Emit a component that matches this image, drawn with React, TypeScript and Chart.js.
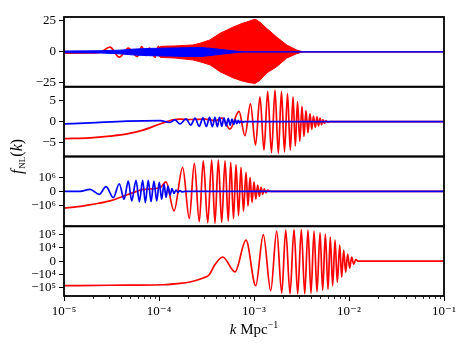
import React, { useEffect, useRef } from 'react';
import { Chart, registerables, LinearScale } from 'chart.js';

Chart.register(...registerables);

// ---------------- data (k as log10 k, values as read) ----------------
// Panel 1
const p1RedLogK = [-5, -4.779, -4.621, -4.516, -4.418, -4.323, -4.228, -4.182, -4.137, -4.102, -4.042, -4.007, -3.972];
const p1RedVal = [-1.0, -0.9, -0.4, 3.8, -4.3, 3.0, -3.8, 4.3, -3.0, 3.0, -4.3, 4.5, -4.5];
const p1RedEnvLogK = [-4.06, -3.98, -3.832, -3.642, -3.568, -3.463, -3.358, -3.221, -3.126, -3.042, -2.989, -2.937, -2.866, -2.761, -2.656, -2.551, -2.484, -1];
const p1RedEnvUpper = [0, 4.5, 4.8, 5.6, 7, 9.7, 15, 20, 23, 25, 26.5, 24, 19, 12, 5.6, 1.5, 0, 0];
const p1RedEnvLower = [0, -4.5, -5, -6.5, -8, -10.5, -16, -21, -23.5, -25, -25.5, -23, -17, -12, -5, -1.5, 0, 0];
const p1BlueEnvLogK = [-5, -4.621, -4.411, -4.253, -4.095, -3.884, -3.674, -3.568, -3.463, -3.358, -3.253, -3.168, -3.095, -1];
const p1BlueEnvUpper = [0.7, 0.9, 1.4, 2.3, 2.8, 3.1, 3.4, 3.6, 2.9, 2.0, 1.1, 0.4, 0, 0];
const p1BlueEnvLower = [-0.7, -0.9, -1.6, -2.6, -3.1, -3.4, -3.8, -3.8, -3.0, -2.0, -1.1, -0.4, 0, 0];

// Panel 2
const p2RedLogK = [-5, -4.726, -4.516, -4.337, -4.168, -3.989, -3.853, -3.779, -3.674, -3.516, -3.411, -3.337, -3.253,
  -3.158, -3.095, -3.037, -2.984, -2.937, -2.895, -2.856, -2.816, -2.779, -2.744, -2.711, -2.679, -2.647, -2.618, -2.589,
  -2.565, -2.542, -2.518, -2.495, -2.474, -2.453, -2.432, -2.411, -2.392, -2.374, -2.355, -2.337, -2.321, -2.305, -2.289,
  -2.274, -2.258, -2.242, -2.226, -2.2, -1];
const p2RedVal = [-4.0, -3.8, -3.4, -2.9, -2.0, -0.55, 0.4, 0.6, 0.5, 0.6, 0.2, 0.8, -1.75,
  2.4, -3.3, 4.2, -5.5, 5.8, -6.7, 7.1, -7.3, 7.4, -7.5, 7.1, -7.1, 6.6, -6.7, 5.8,
  -5.7, 4.7, -4.6, 3.6, -3.5, 2.6, -2.6, 1.9, -1.8, 1.3, -1.3, 1.1, -1.0, 0.8, -0.7,
  0.5, -0.4, 0.25, -0.15, 0, 0];
const p2BlueLogK = [-5, -4.726, -4.337, -3.989, -3.884, -3.832, -3.779, -3.716, -3.666, -3.621, -3.576, -3.537, -3.502,
  -3.468, -3.439, -3.411, -3.386, -3.363, -3.339, -3.316, -3.293, -3.271, -3.251, -3.232, -3.214, -3.197, -3.181, -3.165,
  -3.151, -3.137, -3.121, -3.095, -1];
const p2BlueVal = [-0.55, -0.3, 0.1, 0.24, -0.2, 0.4, -0.55, 0.64, -0.8, 0.8, -1.1, 0.9, -1.15,
  1.0, -1.2, 1.0, -1.2, 1.0, -1.1, 0.9, -1.0, 0.75, -0.85, 0.6, -0.65, 0.45, -0.5, 0.3,
  -0.3, 0.15, -0.1, 0, 0];

// Panel 3
const p3RedLogK = [-5, -4.853, -4.695, -4.516, -4.34, -4.235, -4.168, -3.989, -3.926, -3.842, -3.751, -3.681, -3.628,
  -3.576, -3.534, -3.487, -3.445, -3.411, -3.376, -3.34, -3.305, -3.271, -3.245, -3.216, -3.189, -3.163, -3.137, -3.111,
  -3.084, -3.063, -3.042, -3.021, -3.0, -2.981, -2.961, -2.944, -2.926, -2.908, -2.892, -2.874, -2.856, -2.832, -1];
const p3RedVal = [-1.7e6, -1.32e6, -0.93e6, -0.69e6, -0.26e6, 0, 0.14e6, 0.26e6, 0.69e6, -2.83e6, 6.6e6, -11.4e6, 13.6e6,
  -21.2e6, 22.3e6, -25.4e6, 25.4e6, -28.3e6, 25.4e6, -24.5e6, 22.3e6, -18.6e6, 16.4e6, -11.8e6, 10.8e6, -6.8e6, 6.6e6, -3.0e6,
  2.64e6, -1.2e6, 1.06e6, -0.79e6, 0.68e6, -0.54e6, 0.46e6, -0.36e6, 0.29e6, -0.21e6, 0.18e6, -0.11e6, 0.086e6, 0, 0];
const p3BlueLogK = [-5, -4.832, -4.726, -4.628, -4.558, -4.481, -4.418, -4.368, -4.323, -4.287, -4.242, -4.207, -4.172,
  -4.144, -4.113, -4.084, -4.053, -4.024, -3.997, -3.972, -3.947, -3.926, -3.905, -3.884, -3.863, -3.842, -3.821, -3.8,
  -3.779, -3.758, -3.726, -1];
const p3BlueVal = [0, 0, 0.14e6, -0.21e6, 0.34e6, -0.45e6, 0.55e6, -0.57e6, 0.74e6, -0.69e6, 0.79e6, -0.74e6, 0.79e6,
  -0.81e6, 0.79e6, -0.74e6, 0.74e6, -0.69e6, 0.66e6, -0.57e6, 0.52e6, -0.43e6, 0.36e6, -0.26e6, 0.2e6, -0.15e6, 0.1e6, -0.07e6,
  0.05e6, -0.03e6, 0, 0];

// Panel 4
const p4RedLogK = [-5, -4.516, -3.958, -3.779, -3.674, -3.621, -3.534, -3.471, -3.411, -3.329, -3.2, -3.084, -2.982,
  -2.902, -2.824, -2.761, -2.708, -2.666, -2.621, -2.579, -2.54, -2.502, -2.466, -2.432, -2.4, -2.368, -2.337, -2.305,
  -2.277, -2.249, -2.221, -2.197, -2.172, -2.147, -2.123, -2.098, -2.077, -2.056, -2.035, -2.014, -1.993, -1.972, -1.951,
  -1.929, -1.905, -1];
const p4RedVal = [-7.3e4, -6.7e4, -6.1e4, -4.8e4, -3.7e4, -2.9e4, -1.75e4, -0.98e4, -0.25e4, 0.3e4, -0.78e4, 3.7e4, -7.3e4,
  10.6e4, -18.5e4, 19.6e4, -28.4e4, 23.6e4, -32.4e4, 26.9e4, -32.4e4, 26.9e4, -32.4e4, 24.5e4, -29.5e4, 20.3e4, -22.3e4, 15.4e4,
  -16.9e4, 11.6e4, -14.0e4, 6.7e4, -7.3e4, 3.8e4, -3.8e4, 1.51e4, -1.51e4, 0.8e4, -0.8e4, 0.51e4, -0.51e4, 0.29e4, -0.22e4,
  0.11e4, 0, 0];

// Axes
const xTicks = [1e-5, 1e-4, 1e-3, 1e-2, 1e-1];
const xTickLabels = ['10⁻⁵', '10⁻⁴', '10⁻³', '10⁻²', '10⁻¹'];
const y1Ticks = [-25, 0, 25];
const y1Labels = ['−25', '0', '25'];
const y2Ticks = [-5, 0, 5];
const y2Labels = ['−5', '0', '5'];
const y3Ticks = [-1e6, 0, 1e6];
const y3Labels = ['−10⁶', '0', '10⁶'];
const y4Ticks = [-1e5, -1e4, 0, 1e4, 1e5];
const y4Labels = ['−10⁵', '−10⁴', '0', '10⁴', '10⁵'];

const RED = '#ff0000';
const BLUE = '#0000ff';
const FONT = "'Liberation Serif', 'DejaVu Serif', serif";

// ---------------- symlog scale ----------------
const LS = 1 / (1 - 1 / 10);
const LINTHRESH: Record<string, number> = { y3: 1e6, y4: 1e4 };
function symT(v: number, L: number) {
  const a = Math.abs(v);
  return a <= L ? (v / L) * LS : Math.sign(v) * (LS + Math.log10(a / L));
}
class SymlogScale extends (LinearScale as any) {
  static id = 'symlog';
  static defaults = (LinearScale as any).defaults;
  getPixelForValue(value: number) {
    const L = LINTHRESH[(this as any).id] || 1;
    const t0 = symT((this as any).min, L);
    const t1 = symT((this as any).max, L);
    return (this as any).getPixelForDecimal((symT(value, L) - t0) / (t1 - t0));
  }
  getValueForPixel(pixel: number) {
    const L = LINTHRESH[(this as any).id] || 1;
    const t0 = symT((this as any).min, L);
    const t1 = symT((this as any).max, L);
    const t = t0 + (this as any).getDecimalForPixel(pixel) * (t1 - t0);
    const a = Math.abs(t);
    return a <= LS ? (t / LS) * L : Math.sign(t) * L * Math.pow(10, a - LS);
  }
}
Chart.register(SymlogScale as any);

const pts = (lk: number[], v: number[]) => lk.map((l, i) => ({ x: Math.pow(10, l), y: v[i] }));

function lineDs(data: any[], color: string, axis: string, order: number, extra: any = {}) {
  return {
    data, borderColor: color, backgroundColor: color, borderWidth: 1.7, pointRadius: 0,
    yAxisID: axis, xAxisID: 'x', order, tension: 0.4, cubicInterpolationMode: 'monotone', fill: false,
    ...extra,
  };
}

function yAxis(type: string, weight: number, min: number, max: number, ticks: number[], labels: string[]) {
  return {
    type, position: 'left', stack: 'panels', stackWeight: 1, weight, min, max, bounds: 'data',
    afterBuildTicks: (s: any) => { s.ticks = ticks.map((v) => ({ value: v })); },
    afterFit: (s: any) => { s.width = 64; },
    ticks: {
      callback: (v: any) => { const i = ticks.indexOf(v); return i >= 0 ? labels[i] : ''; },
      font: { family: FONT, size: 13 }, color: '#000', padding: 3, autoSkip: false, maxRotation: 0,
    },
    grid: { drawOnChartArea: false, drawTicks: true, tickLength: 5, tickColor: '#000', tickWidth: 1 },
    border: { display: false },
  };
}

const decorPlugin = {
  id: 'decor',
  afterDraw(chart: any) {
    const { ctx, chartArea } = chart;
    ctx.save();
    // panel frames
    ctx.strokeStyle = '#000';
    ctx.lineWidth = 1.8;
    for (const id of ['y1', 'y2', 'y3', 'y4']) {
      const s = chart.scales[id];
      ctx.strokeRect(chartArea.left, s.top, chartArea.right - chartArea.left, s.bottom - s.top);
    }
    // minor x ticks
    const xs = chart.scales.x;
    ctx.lineWidth = 0.8;
    ctx.beginPath();
    for (let d = -5; d < -1; d++) {
      for (let m = 2; m <= 9; m++) {
        const px = Math.round(xs.getPixelForValue(m * Math.pow(10, d))) + 0.5;
        ctx.moveTo(px, chartArea.bottom);
        ctx.lineTo(px, chartArea.bottom + 3);
      }
    }
    ctx.stroke();
    ctx.fillStyle = '#000';
    ctx.textBaseline = 'alphabetic';
    // x title: k Mpc^-1
    const xParts = [
      { t: 'k', f: `italic 15px ${FONT}`, dy: 0 },
      { t: ' Mpc', f: `15px ${FONT}`, dy: 0 },
      { t: '−1', f: `10px ${FONT}`, dy: -6 },
    ];
    let tot = 0;
    for (const p of xParts) { ctx.font = p.f; tot += ctx.measureText(p.t).width; }
    let x = (chartArea.left + chartArea.right) / 2 - tot / 2;
    for (const p of xParts) { ctx.font = p.f; ctx.fillText(p.t, x, 334 + p.dy); x += ctx.measureText(p.t).width; }
    // y title: f_NL(k)
    ctx.translate(22, 157);
    ctx.rotate(-Math.PI / 2);
    const yParts = [
      { t: 'f', f: `italic 16px ${FONT}`, dy: 0 },
      { t: 'NL', f: `9px ${FONT}`, dy: 3 },
      { t: '(', f: `16px ${FONT}`, dy: 0 },
      { t: 'k', f: `italic 16px ${FONT}`, dy: 0 },
      { t: ')', f: `16px ${FONT}`, dy: 0 },
    ];
    tot = 0;
    for (const p of yParts) { ctx.font = p.f; tot += ctx.measureText(p.t).width; }
    x = -tot / 2;
    for (const p of yParts) { ctx.font = p.f; ctx.fillText(p.t, x, p.dy); x += ctx.measureText(p.t).width + (p.t === 'f' ? 1 : 0); }
    ctx.restore();
  },
};

export default function App() {
  const ref = useRef<HTMLCanvasElement | null>(null);
  useEffect(() => {
    if (!ref.current) return;
    const env = { tension: 0, cubicInterpolationMode: 'default', borderWidth: 1 };
    const datasets: any[] = [
      lineDs(pts(p1BlueEnvLogK, p1BlueEnvUpper), BLUE, 'y1', 0, { ...env, fill: '+1' }),
      lineDs(pts(p1BlueEnvLogK, p1BlueEnvLower), BLUE, 'y1', 0, env),
      lineDs(pts(p1RedEnvLogK, p1RedEnvUpper), RED, 'y1', 1, { ...env, fill: '+1' }),
      lineDs(pts(p1RedEnvLogK, p1RedEnvLower), RED, 'y1', 1, env),
      lineDs(pts(p1RedLogK, p1RedVal), RED, 'y1', 1),
      lineDs(pts(p2RedLogK, p2RedVal), RED, 'y2', 1),
      lineDs(pts(p2BlueLogK, p2BlueVal), BLUE, 'y2', 0),
      lineDs(pts(p3RedLogK, p3RedVal), RED, 'y3', 1),
      lineDs(pts(p3BlueLogK, p3BlueVal), BLUE, 'y3', 0),
      lineDs(pts(p4RedLogK, p4RedVal), RED, 'y4', 1),
    ];
    const chart = new Chart(ref.current, {
      type: 'line',
      data: { datasets },
      options: {
        responsive: false,
        animation: false,
        events: [],
        layout: { padding: { left: 0, top: 17, right: 19, bottom: 0 } },
        plugins: { legend: { display: false }, tooltip: { enabled: false } },
        scales: {
          x: {
            type: 'logarithmic', position: 'bottom', min: 1e-5, max: 1e-1,
            afterBuildTicks: (s: any) => { s.ticks = xTicks.map((v) => ({ value: v })); },
            afterFit: (s: any) => { s.height = 52; },
            ticks: {
              callback: (v: any) => { const i = xTicks.findIndex((t) => Math.abs(Math.log10(t) - Math.log10(v)) < 1e-6); return i >= 0 ? xTickLabels[i] : ''; },
              font: { family: FONT, size: 13 }, color: '#000', padding: 3, autoSkip: false, maxRotation: 0,
            },
            grid: { drawOnChartArea: false, drawTicks: true, tickLength: 5, tickColor: '#000', tickWidth: 1 },
            border: { display: false },
          },
          y1: yAxis('linear', 4, -28.2, 28.2, y1Ticks, y1Labels),
          y2: yAxis('linear', 3, -8.2, 8.2, y2Ticks, y2Labels),
          y3: yAxis('symlog', 2, -4.9e7, 4.9e7, y3Ticks, y3Labels),
          y4: yAxis('symlog', 1, -4.9e5, 4.9e5, y4Ticks, y4Labels),
        } as any,
      },
      plugins: [decorPlugin],
    } as any);
    return () => chart.destroy();
  }, []);
  return (
    <div style={{ position: 'fixed', left: 0, top: 0, width: 463, height: 348, background: '#fff' }}>
      <canvas ref={ref} width={463} height={348} style={{ display: 'block' }} />
    </div>
  );
}
